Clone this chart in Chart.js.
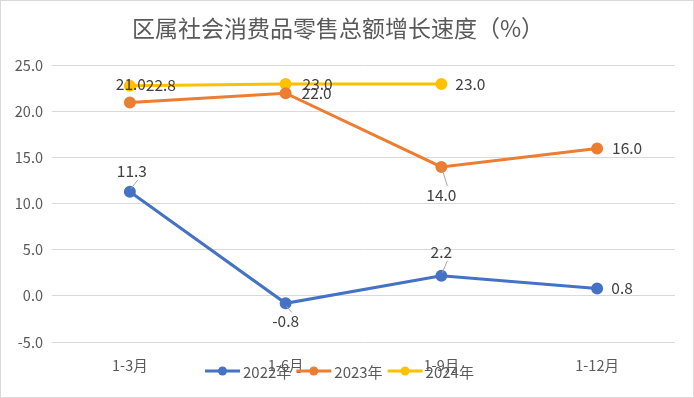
<!DOCTYPE html>
<html>
<head>
<meta charset="utf-8">
<script src="https://cdn.jsdelivr.net/npm/chart.js@4"></script>
<style>
  body { margin: 0; background: #fff; }
  #wrap { width: 694px; height: 398px; box-sizing: border-box; border: 1px solid #d9d9d9; }
</style>
</head>
<body>
<div id="wrap"><canvas id="chart" width="692" height="396"></canvas></div>
<script>
const categories = ['1-3月', '1-6月', '1-9月', '1-12月'];
const seriesNames = ['2022年', '2023年', '2024年'];
const values2022 = [11.3, -0.8, 2.2, 0.8];
const values2023 = [21.0, 22.0, 14.0, 16.0];
const values2024 = [22.8, 23.0, 23.0, null];
const yTicks = [-5, 0, 5, 10, 15, 20, 25];

const colors = ['#4472C4', '#ED7D31', '#FFC000'];
const font = "'Noto Sans CJK SC', 'Noto Sans', sans-serif";

// label placement per point: [dx, dy, leader line]
const labelPos = [
    [[2, -21, true], [0, 18, true], [0, -24, true], [25, 0, false]],
    [[1, -18, false], [31, 0, false], [0, 28, true], [30, 0, false]],
    [[31, -1, false], [32, 0, false], [29, 0, false], null]
];

const dataLabels = {
    id: 'dataLabels',
    afterDatasetsDraw(chart) {
        const ctx = chart.ctx;
        ctx.save();
        ctx.font = '15.5px ' + font;
        ctx.fillStyle = '#404040';
        ctx.textAlign = 'center';
        ctx.textBaseline = 'middle';
        chart.data.datasets.forEach((ds, i) => {
            chart.getDatasetMeta(i).data.forEach((pt, j) => {
                const v = ds.data[j];
                const p = labelPos[i][j];
                if (v === null || !p) return;
                const lx = pt.x + p[0], ly = pt.y + p[1];
                if (p[2]) {
                    ctx.strokeStyle = '#a6a6a6';
                    ctx.lineWidth = 1;
                    ctx.beginPath();
                    const dir = p[1] < 0 ? -1 : 1;
                    ctx.moveTo(pt.x + 1, pt.y + dir * 3);
                    ctx.lineTo(lx + 6, ly - dir * 9);
                    ctx.stroke();
                }
                ctx.fillText(v.toFixed(1), lx, ly);
            });
        });
        ctx.restore();
    }
};

const bottomLegend = {
    id: 'bottomLegend',
    afterDraw(chart) {
        const ctx = chart.ctx;
        const y = 370;
        let x = 204;
        ctx.save();
        ctx.font = '15px ' + font;
        ctx.textBaseline = 'middle';
        ctx.textAlign = 'left';
        chart.data.datasets.forEach((ds, i) => {
            ctx.strokeStyle = ds.borderColor;
            ctx.fillStyle = ds.borderColor;
            ctx.lineWidth = 3;
            ctx.beginPath();
            ctx.moveTo(x, y);
            ctx.lineTo(x + 35, y);
            ctx.stroke();
            ctx.beginPath();
            ctx.arc(x + 17.5, y, 4.5, 0, Math.PI * 2);
            ctx.fill();
            ctx.fillStyle = '#595959';
            ctx.fillText(ds.label, x + 38, y + 1);
            x += 38 + ctx.measureText(ds.label).width + 5;
        });
        ctx.restore();
    }
};

const datasets = [values2022, values2023, values2024].map((vals, i) => ({
    label: seriesNames[i],
    data: vals,
    borderColor: colors[i],
    backgroundColor: colors[i],
    borderWidth: 3,
    pointRadius: 4.5,
    pointHoverRadius: 4.5,
    tension: 0,
    spanGaps: false
}));

new Chart(document.getElementById('chart'), {
    type: 'line',
    data: { labels: categories, datasets: datasets },
    options: {
        responsive: false,
        animation: false,
        layout: { padding: { left: 0, right: 18, top: 0, bottom: 0 } },
        plugins: {
            legend: { display: false },
            tooltip: { enabled: false },
            title: {
                display: true,
                text: '区属社会消费品零售总额增长速度（%）',
                color: '#595959',
                font: { family: font, size: 23, weight: 'normal', lineHeight: 1.2 },
                padding: { top: 13, bottom: 24 }
            }
        },
        scales: {
            x: {
                offset: true,
                grid: { display: false },
                border: { display: false },
                ticks: { color: '#595959', font: { family: font, size: 14.5 }, padding: 7 },
                afterFit(scale) { scale.height = 55; }
            },
            y: {
                min: -5,
                max: 25,
                afterBuildTicks(scale) { scale.ticks = yTicks.map(v => ({ value: v })); },
                grid: { color: '#d9d9d9', lineWidth: 1, drawTicks: false },
                border: { display: false },
                ticks: {
                    color: '#595959',
                    font: { family: font, size: 14.5 },
                    padding: 9,
                    callback: v => v.toFixed(1)
                },
                afterFit(scale) { scale.width = 51; }
            }
        }
    },
    plugins: [dataLabels, bottomLegend]
});
</script>
</body>
</html>
